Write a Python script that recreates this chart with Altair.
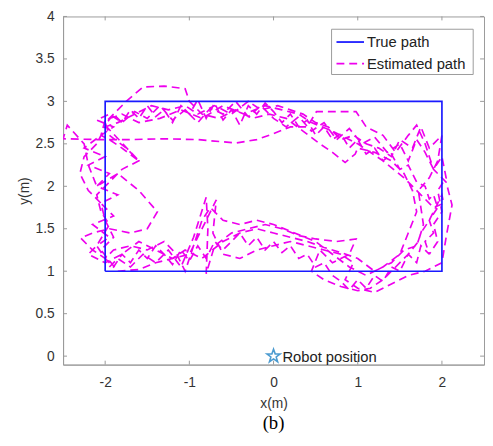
import altair as alt
import pandas as pd

# True path (rectangle)
true_x = [-2, 2, 2, -2, -2]
true_y = [1, 1, 3, 3, 1]

# Estimated path, read off the picture loop by loop
loop1_x = [-1.95,-1.85,-1.7,-1.55,-1.4,-1.25,-1.1,-0.95,-0.8,-0.78,-0.8,-0.7,-0.5,-0.3,-0.1,0.1,0.3,0.5,0.75,0.98,0.9,0.7,0.55,0.45,0.6,0.8,1.0,1.15,1.3,1.45,1.6,1.72,1.78,1.75,1.72,1.85,1.95,2.0,1.85,1.75,1.65,1.5,1.4,1.25,1.1,0.95,0.8,0.65,0.5,0.35,0.2,0.05,-0.15,-0.3,-0.5,-0.7,-0.9,-1.05,-1.25,-1.45,-1.65,-1.85,-2.0,-2.1,-2.25,-2.3,-2.2,-2.05,-2.0,-1.9,-2.05]
loop1_y = [1.05,1.15,1.05,1.2,1.1,1.25,1.05,1.4,1.87,1.5,0.97,1.3,1.45,1.5,1.55,1.5,1.42,1.38,1.35,1.38,1.2,1.1,1.25,1.0,0.9,0.82,0.77,0.8,0.9,1.05,1.2,1.35,1.55,1.75,1.95,2.1,2.3,2.6,2.45,2.7,2.45,2.55,2.35,2.45,2.5,2.6,2.55,2.7,2.75,2.85,2.9,2.95,2.9,3.0,2.85,2.95,2.85,2.95,2.9,2.95,2.85,2.75,2.7,2.5,2.35,2.15,1.95,1.8,1.6,1.4,1.25]

loop2_x = [-1.85,-1.6,-1.4,-1.2,-1.0,-0.9,-0.68,-0.72,-0.6,-0.4,-0.2,0.0,0.2,0.4,0.6,0.8,0.95,0.85,1.0,1.2,1.4,1.6,1.8,2.0,2.05,2.12,2.05,1.9,1.8,1.7,1.6,1.45,1.3,1.1,0.98,0.75,0.51,0.4,0.2,0.0,-0.2,-0.45,-0.9,-1.3,-1.7,-2.1,-2.5,-2.45,-2.25,-2.2,-2.1,-1.85,-1.6,-1.38,-1.5,-1.7,-1.95,-2.15,-2.29,-2.15,-2.0]
loop2_y = [1.0,1.02,1.1,1.15,1.2,1.4,1.84,1.45,1.2,1.15,1.25,1.3,1.35,1.3,1.25,1.2,1.1,0.9,0.8,0.75,0.85,0.95,1.0,1.1,1.4,1.78,2.05,2.2,2.5,2.72,2.6,2.4,2.6,2.7,2.88,2.88,2.88,2.7,2.7,2.62,2.55,2.51,2.55,2.56,2.55,2.55,2.56,2.72,2.5,2.25,2.0,2.15,1.95,1.7,1.5,1.45,1.5,1.45,1.39,1.25,1.15]

loop3_x = [-1.9,-1.7,-1.5,-1.3,-1.15,-1.05,-0.95,-0.85,-0.75,-0.6,-0.4,-0.2,0.0,0.25,0.5,0.7,0.9,1.1,1.3,1.5,1.6,1.7,1.65,1.55,1.4,1.2,1.0,0.97,0.85,0.7,0.55,0.35,0.15,-0.05,-0.25,-0.45,-0.65,-0.85,-1.0,-1.05,-1.3,-1.55,-1.75,-1.9,-2.0,-1.95,-1.75,-1.6,-1.8,-1.95,-2.1,-2.05,-1.95,-2.1]
loop3_y = [1.25,1.3,1.25,1.35,1.2,1.0,1.3,1.6,1.75,1.6,1.55,1.6,1.55,1.45,1.35,1.2,1.05,0.95,1.05,1.2,1.45,1.7,1.95,2.15,2.3,2.4,2.45,2.38,2.28,2.4,2.5,2.65,2.8,2.85,2.8,2.9,2.8,2.85,3.0,3.15,3.18,3.17,3.0,2.85,2.75,2.6,2.45,2.3,2.2,2.05,1.9,1.7,1.55,1.3]

loop4_x = [-2.2,-2.0,-1.8,-1.6,-1.4,-1.2,-1.05,-0.85,-0.6,-0.4,-0.2,0.0,0.2,0.4,0.6,0.8,1.0,1.2,1.4,1.55,1.7,1.75,1.85,2.0,2.02,1.9,1.75,1.55,1.3,1.0,0.7,0.45,0.3,0.1,-0.1,-0.35,-0.6,-0.85,-1.1,-1.35,-1.6,-1.8,-2.0,-2.05,-1.95,-1.8,-1.6]
loop4_y = [1.2,1.1,1.2,1.35,1.25,1.15,1.25,1.15,1.35,1.45,1.5,1.45,1.4,1.35,1.28,1.22,1.15,1.0,1.1,1.25,1.3,1.45,1.6,1.9,1.8,1.75,1.9,2.1,2.3,2.5,2.65,2.75,2.85,2.9,2.95,2.85,2.95,2.8,2.9,2.8,2.75,2.85,2.78,2.6,2.55,2.45,2.3]

loop5_x = [-2.0,-1.9,-1.8,-1.7,-1.6,-1.5,-1.4,-1.3,-1.2,-1.1,-1.0,-0.9,-0.8,-0.7,-0.6,-0.5,-0.4,-0.3,-0.2,-0.1,0.0,0.1,0.2,0.3,0.4,0.5,0.6,0.7,0.8,0.9,1.0,1.1,1.2,1.3,1.4,1.5,1.6,1.7,1.8,1.85,1.9,
           1.95,1.85,1.9,1.8,1.85,1.75,1.7,1.6,1.5,1.4,1.3,1.2,1.1,1.0,0.9,0.8,0.7,0.6,0.5,0.4,0.3,0.2,0.1,0.0,-0.1,-0.2,-0.3,-0.4,-0.5,-0.6,-0.7,-0.8,-0.9,-1.0,-1.1,-1.2,-1.3,-1.4,-1.5,-1.6,-1.7,-1.8,-1.9,-2.0]
loop5_y = [2.72,2.85,2.75,2.9,2.8,2.95,2.82,2.9,2.75,2.95,2.85,3.02,2.8,2.98,2.78,2.9,2.72,2.95,2.85,2.98,2.88,2.75,2.85,2.7,2.78,2.6,2.7,2.55,2.62,2.45,2.55,2.38,2.45,2.3,2.38,2.2,2.25,2.05,2.0,1.85,1.9,
           1.75,1.6,1.45,1.35,1.2,1.3,1.1,1.2,1.0,1.05,0.88,0.95,0.8,0.9,0.78,0.88,0.95,1.1,1.05,1.2,1.15,1.3,1.22,1.35,1.25,1.4,1.3,1.45,1.35,1.25,1.35,1.15,1.3,1.12,1.25,1.08,1.2,1.3,1.15,1.25,1.1,1.2,1.05,1.15]

loop6_x = [-2.1,-1.95,-2.15,-1.9,-2.05,-1.85,-2.1,-1.95,-2.2,-2.0,-2.25,-2.05,-1.9,-2.1,-1.95,
           -1.8,-1.65,-1.5,-1.35,-1.2,-1.05,-0.9,-0.75,-0.6,-0.45,-0.3,-0.15,0.0,0.15,0.3,0.45,0.6,0.75,0.9,1.05,1.2,1.35,1.5,1.6,1.7,1.8,1.9,2.0,2.05,1.95,2.0,1.9,1.95,1.85]
loop6_y = [1.3,1.4,1.55,1.65,1.8,1.9,2.0,2.15,2.25,2.35,2.45,2.6,2.7,2.78,2.85,
           2.75,2.88,2.8,2.95,2.78,2.9,2.75,2.92,2.85,3.0,2.82,2.95,2.8,2.7,2.82,2.65,2.75,2.55,2.68,2.5,2.58,2.4,2.5,2.3,2.55,2.4,2.2,2.35,2.1,1.95,1.7,1.55,1.35,1.2]

series_names = ["True path", "Estimated path"]
series_colors = ["#1a1aff", "#ee00ee"]
robot_x = [0]
robot_y = [0]
robot_label = ["Robot position"]
x_ticks = [-2, -1, 0, 1, 2]
y_ticks = [0, 0.5, 1, 1.5, 2, 2.5, 3, 3.5, 4]

est_x = loop1_x + loop2_x + loop3_x + loop4_x + loop5_x + loop6_x
est_y = loop1_y + loop2_y + loop3_y + loop4_y + loop5_y + loop6_y

paths = pd.concat([
    pd.DataFrame({"x": est_x, "y": est_y, "series": series_names[1], "i": range(len(est_x))}),
    pd.DataFrame({"x": true_x, "y": true_y, "series": series_names[0], "i": range(len(true_x))}),
])

W, H = 428, 354
FONT = "Liberation Sans"
GRAY = "#9a9a9a"
LBL = "''+datum.value"
DASH = [8, 5]

xs = alt.Scale(domain=[-2.5, 2.5], nice=False, zero=False)
ys = alt.Scale(domain=[-0.1, 4], nice=False, zero=False)

lines = alt.Chart(paths).mark_line(clip=True, strokeWidth=1.7).encode(
    x=alt.X("x:Q", scale=xs, axis=alt.Axis(values=x_ticks, title="x(m)", labelExpr=LBL)),
    y=alt.Y("y:Q", scale=ys, axis=alt.Axis(values=y_ticks, title="y(m)", labelExpr=LBL)),
    order="i:Q",
    color=alt.Color("series:N", scale=alt.Scale(domain=series_names, range=series_colors), legend=None),
    strokeDash=alt.StrokeDash("series:N", scale=alt.Scale(domain=series_names, range=[[1, 0], DASH]), legend=None),
)

star_path = "M0,-1L0.235,-0.324L0.951,-0.309L0.38,0.124L0.588,0.809L0,0.4L-0.588,0.809L-0.38,0.124L-0.951,-0.309L-0.235,-0.324Z"
robot_df = pd.DataFrame({"x": robot_x, "y": robot_y, "label": robot_label})
star = alt.Chart(robot_df).mark_point(shape=star_path, size=200, filled=False, color="#0072BD", strokeWidth=1.6).encode(
    x=alt.X("x:Q", scale=xs), y=alt.Y("y:Q", scale=ys))
label = alt.Chart(robot_df).mark_text(align="left", baseline="middle", dx=9, dy=1, font=FONT, fontSize=15, color="#222").encode(
    x=alt.X("x:Q", scale=xs), y=alt.Y("y:Q", scale=ys), text="label:N")

xt = pd.DataFrame({"v": x_ticks})
yt = pd.DataFrame({"v": y_ticks})
xb = alt.Chart(xt).mark_rule(color=GRAY).encode(x=alt.X("v:Q", scale=xs), y=alt.value(H), y2=alt.value(H - 4))
xtp = alt.Chart(xt).mark_rule(color=GRAY).encode(x=alt.X("v:Q", scale=xs), y=alt.value(0), y2=alt.value(4))
yl = alt.Chart(yt).mark_rule(color=GRAY).encode(y=alt.Y("v:Q", scale=ys), x=alt.value(0), x2=alt.value(4))
yr = alt.Chart(yt).mark_rule(color=GRAY).encode(y=alt.Y("v:Q", scale=ys), x=alt.value(W), x2=alt.value(W - 4))

# Hand-placed legend box (MATLAB style)
leg_df = pd.DataFrame({"name": series_names})
LX0, LX1, LY0, LY1 = 273, 417, 13, 59
leg_box = alt.Chart(leg_df.head(1)).mark_rect(fill="white", stroke=GRAY, strokeWidth=1).encode(
    x=alt.value(LX0), x2=alt.value(LX1), y=alt.value(LY0), y2=alt.value(LY1))
leg_true = alt.Chart(leg_df.head(1)).mark_rule(color=series_colors[0], strokeWidth=1.8).encode(
    x=alt.value(278), x2=alt.value(306), y=alt.value(26))
leg_est = alt.Chart(leg_df.head(1)).mark_rule(color=series_colors[1], strokeWidth=1.8, strokeDash=DASH).encode(
    x=alt.value(278), x2=alt.value(306), y=alt.value(48))
leg_t1 = alt.Chart(leg_df.iloc[[0]]).mark_text(align="left", baseline="middle", font=FONT, fontSize=15, color="#222").encode(
    x=alt.value(309), y=alt.value(26), text="name:N")
leg_t2 = alt.Chart(leg_df.iloc[[1]]).mark_text(align="left", baseline="middle", font=FONT, fontSize=15, color="#222").encode(
    x=alt.value(309), y=alt.value(48), text="name:N")

chart = alt.layer(xb, xtp, yl, yr, lines, star, label, leg_box, leg_true, leg_est, leg_t1, leg_t2).properties(
    width=W, height=H,
    autosize=alt.AutoSizeParams(type="none"),
    padding={"left": 56, "right": 1, "top": 5, "bottom": 71},
    title=alt.TitleParams(text="(b)", orient="bottom", font="Liberation Serif", fontSize=19,
                          fontWeight="normal", color="black", offset=3),
).configure_view(stroke=GRAY, strokeWidth=1).configure_axis(
    ticks=False, grid=False, domainColor=GRAY, labelFont=FONT, labelFontSize=14, labelColor="#333",
    titleFont=FONT, titleFontSize=14, titleFontWeight="normal", titleColor="#333", labelPadding=9,
).configure_axisY(titlePadding=4).configure_axisX(titlePadding=8, labelPadding=11)

chart.save("out.html", embed_options={"renderer": "svg", "actions": False})
